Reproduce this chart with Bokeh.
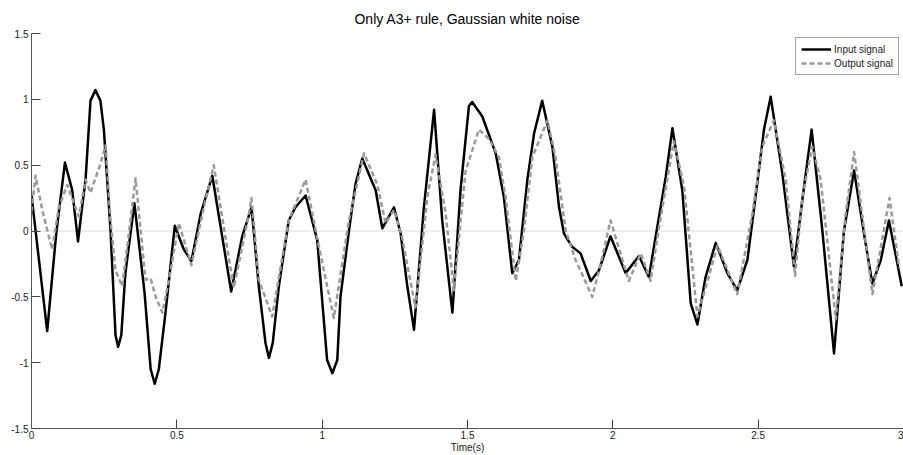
from bokeh.plotting import figure
from bokeh.models import Span, Legend, LegendItem, FixedTicker, Range1d
from bokeh.embed import file_html
from bokeh.resources import INLINE

# Input signal (black)
t_in = [0.000, 0.054, 0.085, 0.115, 0.140, 0.155, 0.160, 0.174, 0.186, 0.203, 0.220, 0.237,
        0.249, 0.272, 0.289, 0.298, 0.309, 0.323, 0.354, 0.389, 0.410, 0.424, 0.438, 0.461,
        0.493, 0.524, 0.550, 0.582, 0.622, 0.656, 0.687, 0.725, 0.757, 0.782, 0.805, 0.817,
        0.830, 0.851, 0.885, 0.908, 0.943, 0.983, 1.017, 1.035, 1.052, 1.063, 1.092, 1.115,
        1.138, 1.184, 1.207, 1.247, 1.270, 1.293, 1.316, 1.350, 1.385, 1.413, 1.448, 1.476,
        1.505, 1.516, 1.551, 1.597, 1.625, 1.654, 1.677, 1.706, 1.729, 1.757, 1.792, 1.815,
        1.832, 1.860, 1.889, 1.924, 1.952, 1.992, 2.044, 2.090, 2.124, 2.153, 2.182, 2.205,
        2.239, 2.268, 2.291, 2.319, 2.354, 2.394, 2.428, 2.463, 2.491, 2.520, 2.543, 2.583,
        2.623, 2.658, 2.684, 2.721, 2.761, 2.795, 2.830, 2.864, 2.893, 2.922, 2.950, 2.994]
y_in = [0.27, -0.76, -0.02, 0.52, 0.31, 0.02, -0.08, 0.18, 0.39, 0.99, 1.07, 0.99,
        0.77, 0.00, -0.79, -0.88, -0.79, -0.32, 0.21, -0.47, -1.05, -1.16, -1.05, -0.62,
        0.04, -0.14, -0.23, 0.13, 0.42, -0.04, -0.46, -0.04, 0.18, -0.42, -0.85, -0.965,
        -0.85, -0.42, 0.08, 0.18, 0.27, -0.07, -0.98, -1.08, -0.98, -0.50, 0.00, 0.36,
        0.55, 0.31, 0.02, 0.18, -0.02, -0.42, -0.75, 0.18, 0.92, 0.08, -0.62, 0.31,
        0.95, 0.98, 0.87, 0.59, 0.26, -0.32, -0.22, 0.39, 0.74, 0.99, 0.64, 0.18,
        -0.02, -0.12, -0.17, -0.38, -0.30, -0.04, -0.32, -0.19, -0.35, 0.03, 0.41, 0.78,
        0.31, -0.55, -0.71, -0.35, -0.09, -0.32, -0.45, -0.22, 0.26, 0.77, 1.02, 0.44,
        -0.27, 0.34, 0.77, 0.00, -0.93, 0.00, 0.46, -0.02, -0.40, -0.22, 0.08, -0.42]

# Output signal (grey, dashed)
t_out = [0.000, 0.014, 0.037, 0.071, 0.094, 0.123, 0.146, 0.163, 0.186, 0.203, 0.237, 0.255,
         0.272, 0.289, 0.312, 0.335, 0.358, 0.392, 0.410, 0.427, 0.450, 0.473, 0.507, 0.550,
         0.590, 0.627, 0.660, 0.696, 0.748, 0.757, 0.782, 0.828, 0.885, 0.943, 0.989, 1.040,
         1.092, 1.144, 1.190, 1.218, 1.247, 1.275, 1.321, 1.362, 1.390, 1.425, 1.453, 1.493,
         1.539, 1.574, 1.608, 1.631, 1.666, 1.694, 1.723, 1.775, 1.803, 1.838, 1.872, 1.929,
         1.958, 1.992, 2.055, 2.096, 2.130, 2.159, 2.210, 2.245, 2.291, 2.360, 2.428, 2.480,
         2.514, 2.554, 2.595, 2.627, 2.652, 2.686, 2.715, 2.767, 2.801, 2.830, 2.893, 2.952,
         2.985]
y_out = [0.15, 0.42, 0.16, -0.14, 0.18, 0.35, 0.21, 0.11, 0.39, 0.29, 0.51, 0.65,
         0.08, -0.30, -0.42, -0.02, 0.40, -0.37, -0.36, -0.50, -0.62, -0.37, 0.06, -0.26,
         0.15, 0.50, 0.05, -0.43, 0.13, 0.25, -0.37, -0.65, 0.08, 0.39, -0.12, -0.66,
         0.08, 0.59, 0.35, 0.06, 0.16, -0.05, -0.58, 0.26, 0.58, 0.13, -0.45, 0.45,
         0.77, 0.70, 0.56, 0.26, -0.38, 0.00, 0.56, 0.84, 0.56, 0.00, -0.22, -0.50,
         -0.25, 0.08, -0.38, -0.17, -0.38, 0.03, 0.68, 0.34, -0.65, -0.11, -0.48, 0.13,
         0.64, 0.84, 0.39, -0.34, 0.26, 0.64, 0.39, -0.67, 0.13, 0.60, -0.48, 0.25,
         -0.28]

x_ticks = [0, 0.5, 1, 1.5, 2, 2.5, 3]
x_labels = ["0", "0.5", "1", "1.5", "2", "2.5", "3"]
y_ticks = [-1.5, -1, -0.5, 0, 0.5, 1, 1.5]
y_labels = ["-1.5", "-1", "-0.5", "0", "0.5", "1", "1.5"]

FONT = "Liberation Sans"

p = figure(width=903, height=455, output_backend="svg", toolbar_location=None,
           x_range=Range1d(0, 3), y_range=Range1d(-1.5, 1.5),
           title="Only A3+ rule, Gaussian white noise")
p.min_border_left = 31
p.min_border_right = 0
p.min_border_top = 33
p.min_border_bottom = 0
p.outline_line_color = None
p.background_fill_color = "white"
p.border_fill_color = "white"
p.xgrid.visible = False
p.ygrid.visible = False

p.title.align = "center"
p.title.text_font = FONT
p.title.text_font_size = "14px"
p.title.text_font_style = "normal"
p.title.text_color = "black"
p.title.standoff = 14

for ax, ticks, labels in ((p.xaxis[0], x_ticks, x_labels), (p.yaxis[0], y_ticks, y_labels)):
    ax.ticker = FixedTicker(ticks=ticks)
    ax.major_label_overrides = {t: l for t, l in zip(ticks, labels)}
    ax.major_tick_in = 9
    ax.major_tick_out = 0
    ax.minor_tick_in = 0
    ax.minor_tick_out = 0
    ax.axis_line_color = "#555555"
    ax.major_tick_line_color = "#444444"
    ax.major_label_text_font = FONT
    ax.major_label_text_font_size = "10px"
    ax.major_label_text_color = "#222222"
    ax.major_label_standoff = 3

p.xaxis[0].major_label_standoff = 2
p.xaxis.axis_label = "Time(s)"
p.xaxis.axis_label_text_font = FONT
p.xaxis.axis_label_text_font_size = "10px"
p.xaxis.axis_label_text_font_style = "normal"
p.xaxis.axis_label_text_color = "#222222"
p.xaxis.axis_label_standoff = 0

p.add_layout(Span(location=0, dimension="width", line_color="#eeeeee", line_width=2, level="underlay"))

r_in = p.line(t_in, y_in, line_color="black", line_width=2.5, line_join="round")
r_out = p.line(t_out, y_out, line_color="#9a9a9a", line_width=2.5, line_dash="5 3", line_join="round")

legend = Legend(items=[LegendItem(label="Input signal", renderers=[r_in]),
                       LegendItem(label="Output signal", renderers=[r_out])],
                location="top_right")
legend.margin = 4
legend.padding = 5
legend.spacing = 2
legend.glyph_width = 30
legend.glyph_height = 12
legend.label_standoff = 3
legend.label_height = 12
legend.label_text_font = FONT
legend.label_text_font_size = "10px"
legend.label_text_color = "#222222"
legend.border_line_color = "#444444"
legend.border_line_width = 1
legend.background_fill_alpha = 1
p.add_layout(legend)

open("out.html", "w").write(file_html(p, INLINE))
